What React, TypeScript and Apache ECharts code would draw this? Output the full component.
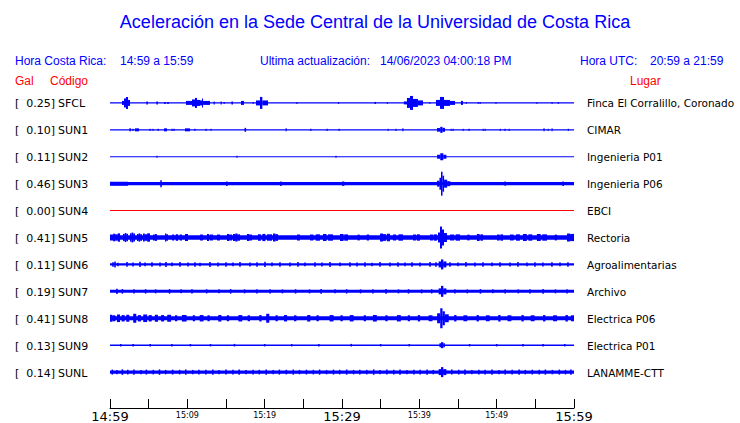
import React, { useEffect, useRef } from 'react';
import * as echarts from 'echarts';

const TITLE = 'Aceleración en la Sede Central de la Universidad de Costa Rica';
const HORA_CR_LABEL = 'Hora Costa Rica:';
const HORA_CR = '14:59 a 15:59';
const UPDATE_LABEL = 'Ultima actualización:';
const UPDATE_TIME = '14/06/2023 04:00:18 PM';
const HORA_UTC_LABEL = 'Hora UTC:';
const HORA_UTC = '20:59 a 21:59';

const CODES = ['SFCL', 'SUN1', 'SUN2', 'SUN3', 'SUN4', 'SUN5', 'SUN6', 'SUN7', 'SUN8', 'SUN9', 'SUNL'];
const PEAK_GAL = ['0.25', '0.10', '0.11', '0.46', '0.00', '0.41', '0.11', '0.19', '0.41', '0.13', '0.14'];
const PLACES = [
  'Finca El Corralillo, Coronado', 'CIMAR', 'Ingenieria P01', 'Ingenieria P06', 'EBCI', 'Rectoria',
  'Agroalimentarias', 'Archivo', 'Electrica P06', 'Electrica P01', 'LANAMME-CTT',
];
const TICK_LABELS = ['14:59', '', '15:09', '', '15:19', '', '15:29', '', '15:39', '', '15:49', '', '15:59'];

// baseline half-thickness of each trace (amplitude units)
const BASE = [0.7, 0.7, 0.6, 1.7, 0.5, 2.2, 1.1, 1.5, 2.0, 0.7, 1.7];

// envelope segments: [startMinute, endMinute, halfAmplitude]; blips: [minute, halfAmplitude]
const EV_SFCL = [
  [1.55, 1.81, 2], [1.81, 2.07, 4.5], [2.07, 2.33, 6], [2.33, 2.59, 3],
  [4.7, 4.9, 1.5], [6.0, 6.2, 1.5], [7.0, 7.2, 1], [7.4, 7.6, 1],
  [9.83, 10.6, 2], [10.6, 10.99, 3.5], [10.99, 11.25, 5], [11.25, 11.64, 3], [11.64, 11.9, 2.5], [11.9, 12.03, 4.5], [12.03, 12.93, 2],
  [13.4, 13.55, 1.5], [14.3, 14.45, 1.5], [14.7, 14.8, 1], [15.7, 15.9, 1.5], [16.94, 17.33, 2], [18.45, 18.55, 1],
  [18.88, 19.4, 2.5], [19.4, 19.7, 6], [19.7, 20.43, 2.5], [24.1, 24.25, 1], [29.5, 29.6, 1], [34.2, 34.4, 1],
  [35.8, 35.9, 1], [38.0, 38.4, 1.5], [38.4, 38.79, 5], [38.79, 39.18, 7], [39.18, 39.82, 4], [39.82, 40.47, 2.5],
  [41.3, 41.4, 1], [42.15, 42.67, 3], [42.67, 43.19, 6], [43.19, 43.96, 3], [43.96, 44.61, 2], [45.38, 45.64, 2],
  [46.0, 46.1, 1], [47.55, 47.65, 1], [47.8, 47.9, 1], [49.85, 49.95, 1], [55.15, 55.25, 1], [57.1, 57.2, 1], [57.9, 58.0, 1],
];
const EV_SUN1 = [
  [2.5, 2.7, 1.5], [2.9, 3.05, 1.2], [3.23, 3.75, 1.5], [5.1, 5.25, 1.2], [5.5, 5.6, 1.2], [6.15, 6.3, 1.2],
  [6.98, 7.37, 1.5], [7.95, 8.1, 1.2], [8.2, 8.35, 1.2], [9.7, 10.34, 1.5], [10.9, 11.05, 1.2], [12.35, 12.5, 1.2],
  [13.0, 13.1, 1.2], [17.4, 17.6, 2], [22.7, 22.85, 1.5], [25.9, 26.05, 1.2], [28.0, 28.15, 1.2], [29.55, 29.7, 1.2],
  [35.9, 36.0, 1.2], [36.9, 37.05, 1.2], [37.8, 37.95, 1.5], [42.28, 42.7, 1.8], [42.7, 43.0, 3], [43.0, 43.32, 2],
  [44.05, 44.15, 1.2], [44.3, 44.4, 1.2], [45.6, 45.7, 1.2], [46.35, 46.5, 1.2], [48.2, 48.3, 1.2], [48.45, 48.55, 1.2],
  [50.4, 50.5, 1.2], [51.0, 51.15, 1.2], [51.55, 51.65, 1.2], [56.05, 56.2, 1.5], [56.6, 56.7, 1.2], [57.1, 57.2, 1.5], [59.2, 59.3, 1.2],
];
const EV_SUN2 = [
  [6.0, 6.15, 1], [16.35, 16.5, 1], [29.15, 29.3, 1], [42.3, 42.7, 2], [42.7, 43.1, 3.5], [43.1, 43.5, 2],
];
const EV_SUN3 = [
  [0, 2.33, 2], [6.5, 6.7, 3.5], [15.0, 15.2, 2.3], [22.0, 22.2, 2.3], [30.0, 30.3, 2.2],
  [42.3, 42.6, 3], [42.6, 42.8, 6], [42.8, 43.0, 12], [43.0, 43.2, 8], [43.2, 43.6, 4], [43.6, 44.0, 2.5],
  [51.0, 51.2, 2.2], [58.5, 58.7, 2.3],
];
const EV_SUN4: number[][] = [];
const EV_SUN5 = [
  [0, 0.4, 3], [0.4, 0.7, 3.8], [0.7, 1.0, 3.2], [1.0, 1.3, 4.2], [1.68, 1.9, 3.6], [1.9, 2.1, 4.5], [2.1, 2.33, 3.8],
  [2.59, 2.8, 4.2], [2.8, 3.0, 5], [3.0, 3.23, 4], [3.49, 3.7, 3.5], [3.7, 3.9, 4.2], [3.9, 4.14, 3.3], [4.27, 4.5, 4],
  [4.5, 4.8, 3.3], [4.8, 5.17, 4.2], [5.56, 5.8, 3], [5.8, 6.08, 3.4], [7.11, 7.3, 4], [7.3, 7.5, 3.3], [8.02, 8.3, 3],
  [8.5, 8.8, 3.3], [9.0, 9.31, 3], [9.7, 10.09, 3.5], [11.64, 12.03, 3], [12.54, 12.8, 3.5], [12.9, 13.32, 3],
  [13.84, 14.22, 3], [15.13, 15.4, 3.5], [15.4, 15.77, 3], [15.9, 16.2, 3.5], [16.2, 16.5, 4], [16.5, 16.81, 3.2],
  [17.71, 18.0, 3.5], [18.0, 18.36, 3], [19.14, 19.5, 3.3], [19.7, 20.1, 3.6], [20.3, 20.95, 3.2], [21.08, 21.4, 4],
  [21.4, 21.72, 3.4], [24.18, 24.57, 3], [25.86, 26.3, 3], [26.6, 27.15, 3.2], [27.54, 28.0, 3.5], [28.2, 28.83, 3.2],
  [29.74, 30.2, 3.5], [30.3, 30.77, 3.2], [32.0, 32.3, 2.9], [33.2, 33.5, 3], [34.91, 35.3, 4], [35.3, 35.7, 3.4],
  [35.8, 36.2, 3.8], [36.59, 37.0, 3], [37.3, 37.88, 3.2], [39.18, 39.6, 3], [39.7, 40.08, 3.2], [41.38, 41.8, 3],
  [41.9, 42.28, 3.2], [42.41, 42.67, 5], [42.67, 42.93, 11], [42.93, 43.19, 8], [43.19, 43.57, 4.5], [43.96, 44.5, 3],
  [44.7, 45.25, 3.2], [46.2, 46.5, 2.9], [47.45, 47.8, 3.5], [47.9, 48.23, 3.2], [50.04, 50.4, 3], [50.5, 50.82, 3.2],
  [51.72, 52.2, 3], [52.5, 53.01, 3.2], [53.4, 53.9, 3.5], [54.1, 54.6, 3.2], [55.2, 55.7, 3.5], [55.9, 56.5, 3.2],
  [57.5, 57.8, 2.9], [59.09, 59.5, 4], [59.5, 60, 3.6],
];
const EV_SUN6 = [
  [0.39, 2.2], [0.65, 3], [1.03, 1.8], [2.2, 2.4], [2.97, 2], [3.88, 2.6], [4.53, 1.9], [5.43, 2.3], [6.47, 2],
  [7.24, 2.5], [8.02, 1.9], [9.05, 2.4], [10.09, 2], [10.99, 2.2], [11.64, 1.8], [12.93, 2.5], [13.97, 2],
  [15.0, 2.3], [15.9, 1.9], [16.81, 2.4], [18.1, 2], [19.01, 2.2], [20.04, 2.6], [20.95, 1.9], [21.98, 2.3],
  [23.27, 2], [24.31, 2.4], [25.21, 1.9], [26.51, 2.2], [27.41, 2], [28.45, 2.5], [29.74, 1.9], [31.03, 2.3],
  [31.94, 2], [32.97, 2.2], [33.88, 1.8], [34.91, 2.4], [36.2, 2], [37.24, 2.3], [38.14, 1.9], [39.05, 2.2],
  [40.08, 2], [41.38, 2.4], [42.15, 2.2], [42.5, 42.8, 3], [42.8, 43.1, 5], [43.1, 43.5, 3], [43.96, 2.2],
  [44.99, 1.9], [46.03, 2.4], [47.19, 2], [48.23, 2.3], [49.39, 1.9], [50.43, 2.2], [51.72, 2], [52.75, 2.4],
  [53.92, 1.9], [54.95, 2.3], [55.98, 2], [57.15, 2.2], [58.19, 1.9], [59.22, 2.3],
];
const EV_SUN7 = [
  [0.9, 2.6], [1.5, 1.7, 2.3], [3.1, 2.1], [4.6, 2.2], [5.9, 2], [7.7, 2.3], [9.2, 2], [10.6, 2.2], [12.5, 2.1],
  [14.1, 2], [15.6, 2.3], [17.4, 2], [19.0, 2.2], [20.7, 2.1], [22.3, 2], [24.0, 2.2], [25.8, 2], [27.3, 2.3],
  [29.1, 2], [30.6, 2.2], [32.4, 2], [34.0, 2.1], [35.7, 2.3], [37.3, 2], [38.6, 2.2], [40.3, 2], [41.6, 2.1],
  [42.5, 42.8, 3], [42.8, 43.1, 5.5], [43.1, 43.5, 3], [44.6, 2.1], [46.2, 2], [47.9, 2.3], [49.5, 2], [51.1, 2.2],
  [52.8, 2], [54.3, 2.1], [56.0, 2.3], [57.6, 2], [59.1, 2.2],
];
const EV_SUN8 = [
  [0, 0.3, 3.5], [0.3, 0.7, 3], [0.9, 1.3, 3.8], [1.5, 1.9, 3.2], [2.1, 2.5, 3.5], [3.0, 3.4, 4.5], [3.6, 4.0, 3.2],
  [4.3, 4.8, 3.8], [5.0, 5.4, 3.2], [5.8, 6.2, 3.5], [6.6, 7.0, 3.2], [7.4, 7.9, 3.5], [8.4, 8.7, 3], [9.3, 9.9, 3.3],
  [10.7, 11.0, 3], [11.6, 12.1, 3.2], [12.6, 12.9, 3], [14.0, 14.4, 3.3], [15.1, 15.4, 3], [16.6, 17.1, 3.2],
  [17.8, 18.1, 3], [19.3, 19.6, 3.2], [20.2, 20.6, 4.5], [21.4, 21.7, 3], [22.5, 22.9, 3.2], [23.8, 24.1, 3],
  [25.5, 25.9, 3.3], [26.7, 27.0, 3], [28.4, 28.9, 3.2], [29.8, 30.1, 3], [31.0, 31.5, 3.2], [32.8, 33.1, 3],
  [34.0, 34.5, 3.3], [35.6, 35.9, 3], [37.1, 37.6, 3.2], [38.5, 38.8, 3], [39.8, 40.1, 3.2], [41.2, 41.7, 3],
  [42.3, 42.7, 5], [42.7, 43.0, 10], [43.0, 43.3, 7], [43.3, 43.8, 4], [44.5, 44.8, 3.2], [45.7, 46.2, 3],
  [47.4, 47.7, 3.2], [48.6, 49.1, 3], [50.2, 50.5, 3.3], [51.4, 51.9, 3], [53.2, 53.5, 3.2], [54.4, 54.9, 3],
  [56.0, 56.3, 3.2], [57.3, 57.8, 3], [58.9, 59.2, 3.3], [59.6, 60, 3],
];
const EV_SUN9 = [
  [1.4, 1.2], [3, 1.2], [5.2, 1.3], [8, 1.2], [10.4, 1.2], [13, 1.2], [16.1, 1.3], [20, 1.2], [23.5, 1.2],
  [27, 1.2], [31.2, 1.3], [35, 1.2], [38.7, 1.2], [42.6, 42.8, 2], [42.8, 43.1, 3], [43.1, 43.3, 2],
  [46.5, 1.2], [50, 1.2], [53.4, 1.3], [56, 1.2], [58.8, 1.2],
];
const EV_SUNL = [
  [0.3, 2.5], [0.9, 2.2], [1.6, 2.8], [2.3, 2.3], [3.1, 2.6], [4.0, 2.2], [4.7, 2.5], [5.6, 2.3], [6.4, 2.7],
  [7.2, 2.2], [8.1, 2.5], [9.0, 2.3], [9.8, 2.6], [10.7, 2.2], [11.5, 2.4], [12.4, 2.3], [13.3, 2.6], [14.1, 2.2],
  [15.0, 2.5], [15.9, 2.3], [16.7, 2.6], [17.6, 2.2], [18.5, 2.4], [19.3, 2.3], [20.2, 2.7], [21.1, 2.2],
  [21.9, 2.5], [22.8, 2.3], [23.7, 2.6], [24.5, 2.2], [25.4, 2.4], [26.3, 2.3], [27.1, 2.6], [28.0, 2.2],
  [28.9, 2.5], [29.7, 2.3], [30.6, 2.6], [31.5, 2.2], [32.3, 2.4], [33.2, 2.3], [34.1, 2.7], [34.9, 2.2],
  [35.8, 2.5], [36.7, 2.3], [37.5, 2.6], [38.4, 2.2], [39.3, 2.4], [40.1, 2.3], [41.0, 2.6], [41.8, 2.2],
  [42.5, 42.8, 3], [42.8, 43.1, 5], [43.1, 43.5, 3], [44.2, 2.5], [45.1, 2.3], [45.9, 2.6], [46.8, 2.2],
  [47.7, 2.4], [48.5, 2.3], [49.4, 2.6], [50.3, 2.2], [51.1, 2.5], [52.0, 2.3], [52.9, 2.6], [53.7, 2.2],
  [54.6, 2.4], [55.5, 2.3], [56.3, 2.6], [57.2, 2.2], [58.1, 2.5], [58.9, 2.3], [59.6, 2.6],
];
const EVENTS = [EV_SFCL, EV_SUN1, EV_SUN2, EV_SUN3, EV_SUN4, EV_SUN5, EV_SUN6, EV_SUN7, EV_SUN8, EV_SUN9, EV_SUNL];

const BLUE = '#0000ff';
const RED = '#ff0000';
const LANE_PX = 27; // one amplitude unit = 1/27 of a lane
const BLIP_MIN = 0.2; // duration of a single blip, minutes

export default function App() {
  const ref = useRef<HTMLDivElement>(null);
  useEffect(() => {
    if (!ref.current) return;
    const chart = echarts.init(ref.current, null, { renderer: 'svg' });

    const data: number[][] = [];
    CODES.forEach((_, i) => {
      data.push([i, 0, 60, BASE[i]]);
      (EVENTS[i] as number[][]).forEach((e) => {
        if (e.length === 2) data.push([i, e[0] - BLIP_MIN / 2, e[0] + BLIP_MIN / 2, e[1]]);
        else data.push([i, e[0], e[1], e[2]]);
      });
    });

    const laneY = (i: number) => 103 + 27 * i;
    const hdr = { fill: BLUE, fontSize: 12, fontFamily: 'Liberation Sans', verticalAlign: 'middle' };
    const red = { fill: RED, fontSize: 12, fontFamily: 'Liberation Sans', verticalAlign: 'middle' };
    const graphics: any[] = [
      { type: 'text', x: 375, y: 22, style: { text: TITLE, fill: BLUE, fontSize: 18, fontFamily: 'Liberation Sans', align: 'center', verticalAlign: 'middle' } },
      { type: 'text', x: 15, y: 61, style: { ...hdr, text: HORA_CR_LABEL } },
      { type: 'text', x: 120, y: 61, style: { ...hdr, text: HORA_CR } },
      { type: 'text', x: 260, y: 61, style: { ...hdr, text: UPDATE_LABEL } },
      { type: 'text', x: 380, y: 61, style: { ...hdr, text: UPDATE_TIME } },
      { type: 'text', x: 580, y: 61, style: { ...hdr, text: HORA_UTC_LABEL } },
      { type: 'text', x: 650, y: 61, style: { ...hdr, text: HORA_UTC } },
      { type: 'text', x: 15, y: 81, style: { ...red, text: 'Gal' } },
      { type: 'text', x: 50, y: 81, style: { ...red, text: 'Código' } },
      { type: 'text', x: 630, y: 81, style: { ...red, text: 'Lugar' } },
    ];
    CODES.forEach((code, i) => {
      const y = laneY(i);
      const st = { fill: '#000', fontSize: 11, fontFamily: 'DejaVu Sans', verticalAlign: 'middle' };
      graphics.push({ type: 'text', x: 15, y, style: { ...st, text: '[' } });
      graphics.push({ type: 'text', x: 55, y, style: { ...st, text: PEAK_GAL[i] + ']', align: 'right' } });
      graphics.push({ type: 'text', x: 58, y, style: { ...st, text: code } });
      graphics.push({ type: 'text', x: 587, y, style: { ...st, fontSize: 10.5, text: PLACES[i] } });
    });

    chart.setOption({
      animation: false,
      grid: { left: 110, right: 166, top: 76, bottom: 14 },
      xAxis: {
        type: 'value', min: 0, max: 60, interval: 5,
        axisLine: { onZero: false, lineStyle: { color: '#000', width: 1 } },
        axisTick: { inside: true, length: 9, lineStyle: { color: '#000' } },
        splitLine: { show: false },
        axisLabel: {
          margin: 2, showMinLabel: true, showMaxLabel: true, hideOverlap: false,
          formatter: (v: number) => {
            const k = Math.round(v / 5);
            const t = TICK_LABELS[k];
            if (!t) return '';
            return k % 6 === 0 ? `{big|${t}}` : `{small|${t}}`;
          },
          rich: {
            big: { fontSize: 13, fontFamily: 'DejaVu Sans', color: '#000' },
            small: { fontSize: 8, fontFamily: 'DejaVu Sans', color: '#000', padding: [1, 0, 0, 0] },
          },
        },
      },
      yAxis: { type: 'value', inverse: true, min: -1, max: 11.3333, show: false },
      graphic: graphics,
      series: [{
        type: 'custom',
        clip: false,
        data,
        renderItem: (params: any, api: any) => {
          const i = api.value(0);
          const s = api.value(1);
          const e = api.value(2);
          const a = api.value(3) / LANE_PX;
          const p1 = api.coord([s, i - a]);
          const p2 = api.coord([e, i + a]);
          const top = Math.min(p1[1], p2[1]);
          return {
            type: 'rect',
            shape: { x: p1[0], y: top, width: Math.max(p2[0] - p1[0], 1), height: Math.abs(p2[1] - p1[1]) },
            style: { fill: CODES[i] === 'SUN4' ? RED : BLUE },
          };
        },
      }],
    });
    return () => chart.dispose();
  }, []);
  return <div ref={ref} style={{ position: 'absolute', left: 0, top: 0, width: 740, height: 423 }} />;
}
